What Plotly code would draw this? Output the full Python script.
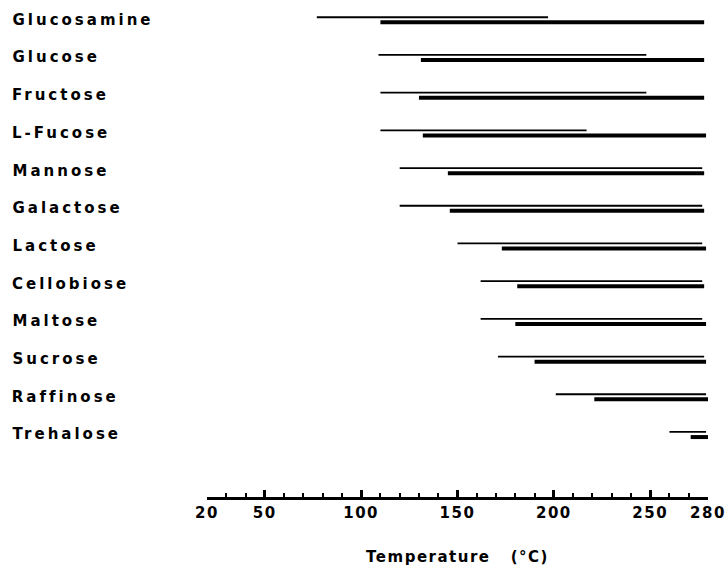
import plotly.graph_objects as go

sugars = ["Glucosamine", "Glucose", "Fructose", "L-Fucose", "Mannose", "Galactose",
          "Lactose", "Cellobiose", "Maltose", "Sucrose", "Raffinose", "Trehalose"]
thin_start = [77, 109, 110, 110, 120, 120, 150, 162, 162, 171, 201, 260]
thin_end   = [197, 248, 248, 217, 277, 277, 277, 277, 277, 278, 279, 279]
thick_start = [110, 131, 130, 132, 145, 146, 173, 181, 180, 190, 221, 271]
thick_end   = [278, 278, 278, 279, 278, 278, 279, 278, 279, 279, 280, 280]

major_ticks = [20, 50, 100, 150, 200, 250, 280]
minor_ticks = [v for v in range(20, 281, 10) if v not in major_ticks]

OFF = 0.068
FONT = "DejaVu Sans"
LABEL_SPACING = 3  # px letter spacing applied to row labels

def segs(starts, ends, dy):
    xs, ys = [], []
    for i, (a, b) in enumerate(zip(starts, ends)):
        xs += [a, b, None]
        ys += [i + dy, i + dy, None]
    return xs, ys

tx, ty = segs(thin_start, thin_end, -OFF)
kx, ky = segs(thick_start, thick_end, OFF)

fig = go.Figure()
fig.add_trace(go.Scatter(x=tx, y=ty, mode="lines", line=dict(color="black", width=1.8),
                         hoverinfo="skip", showlegend=False))
fig.add_trace(go.Scatter(x=kx, y=ky, mode="lines", line=dict(color="black", width=4),
                         hoverinfo="skip", showlegend=False))

for i, name in enumerate(sugars):
    fig.add_annotation(text=name, xref="paper", yref="y", x=-0.393, y=i,
                       xanchor="left", yanchor="middle", showarrow=False,
                       xshift=len(name) * LABEL_SPACING / 2,
                       font=dict(family=FONT, size=15, color="black", weight="bold"))

fig.update_layout(
    width=725, height=566,
    margin=dict(l=207, r=17, t=0, b=69),
    paper_bgcolor="white", plot_bgcolor="white",
    xaxis=dict(range=[20, 280], showgrid=False, zeroline=False,
               showline=True, linecolor="black", linewidth=3,
               ticks="inside", ticklen=7, tickwidth=3, tickcolor="black",
               tickmode="array", tickvals=major_ticks,
               ticktext=[str(v) for v in major_ticks],
               tickfont=dict(family=FONT, size=15, color="black", weight="bold"),
               minor=dict(tickmode="array", tickvals=minor_ticks, ticks="inside",
                          ticklen=4, tickwidth=1.5, tickcolor="black"),
               title=dict(text="Temperature   (°C)", standoff=31,
                          font=dict(family=FONT, size=15, color="black", weight="bold"))),
    yaxis=dict(range=[12.658, -0.525], visible=False),
)

post = """
var gd = document.getElementById('{plot_id}');
document.body.style.margin = '0';
document.body.style.overflow = 'hidden';
function sp(){
  gd.querySelectorAll('.annotation-text').forEach(function(e){e.style.letterSpacing='3px';});
  gd.querySelectorAll('.xtick text').forEach(function(e){e.style.letterSpacing='1.5px';});
  gd.querySelectorAll('.g-xtitle text').forEach(function(e){e.style.letterSpacing='1.5px';});
}
sp();
gd.on('plotly_afterplot', sp);
"""

fig.write_html("out.html", post_script=post, config={"displayModeBar": False})
